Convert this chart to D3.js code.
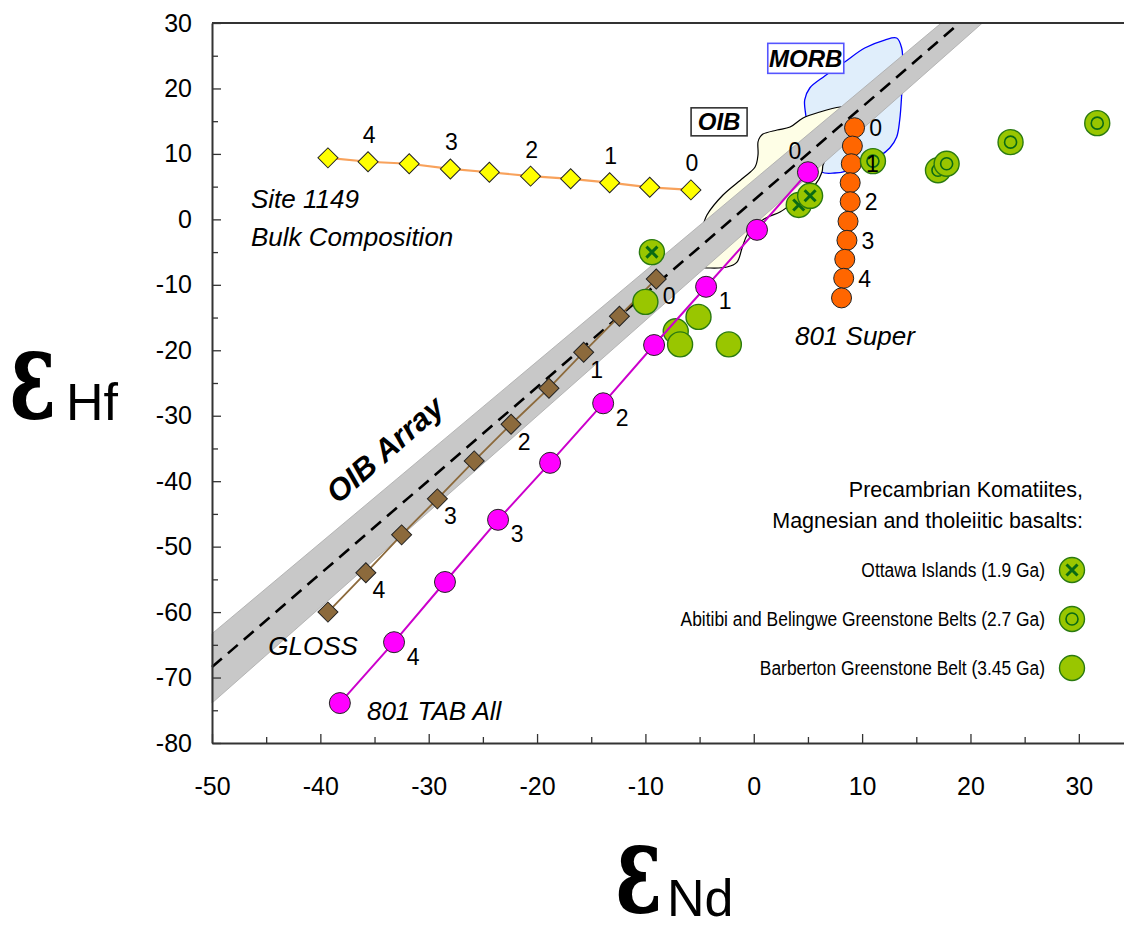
<!DOCTYPE html>
<html><head><meta charset="utf-8">
<script src="https://cdn.jsdelivr.net/npm/d3@7"></script>
<style>
body{margin:0;background:#fff}
svg{display:block}
</style>
</head><body>
<svg id="chart" width="1124" height="926" font-family="Liberation Sans, Arial, sans-serif"></svg>
<script>
// ---------- data ----------
const stepLabels = ["0","1","2","3","4"];

const site1149X = [-39.3,-35.6,-31.8,-28.0,-24.4,-20.6,-16.9,-13.3,-9.6,-5.8];
const site1149Y = [9.4,8.8,8.5,7.7,7.2,6.6,6.2,5.6,4.9,4.5];
const site1149LabelIdx = [9,7,5,3,1];

const superX = [9.3,9.1,9.0,8.9,8.9,8.7,8.6,8.4,8.3,8.1];
const superY = [14.0,11.2,8.5,5.6,2.7,-0.3,-3.2,-6.1,-9.0,-12.0];
const superLabelIdx = [0,2,4,6,8];

const tabX = [5.0,0.3,-4.4,-9.2,-13.9,-18.8,-23.6,-28.5,-33.2,-38.2];
const tabY = [7.2,-1.6,-10.3,-19.2,-28.1,-37.2,-45.9,-55.4,-64.6,-73.9];
const tabLabelIdx = [0,2,4,6,8];

const glossX = [-9.0,-12.4,-15.7,-18.9,-22.4,-25.8,-29.2,-32.5,-35.8,-39.3];
const glossY = [-9.1,-14.8,-20.3,-25.8,-31.3,-36.9,-42.7,-48.2,-54.0,-60.0];
const glossLabelIdx = [0,2,4,6,8];

const ottawaX = [-9.4,4.15,5.2];
const ottawaY = [-5.0,2.2,3.6];
const abitibiX = [11.0,17.0,17.8,23.7,31.7];
const abitibiY = [8.9,7.5,8.5,11.8,14.7];
const barbertonX = [-10.0,-7.2,-5.1,-6.8,-2.3];
const barbertonY = [-12.6,-17.1,-14.9,-19.1,-19.1];

const oibArrayX = [-50,19.0];
const oibArrayY = [-68.4,30];
const bandUpperX = [-50,17.3];
const bandUpperY = [-63.3,30];
const bandLowerX = [-50,21.1];
const bandLowerY = [-73.9,30];

const morbX = [13.19,13.65,13.75,13.65,13.47,13.19,12.55,11.62,10.24,8.86,7.47,6.27,5.63,5.17,4.80,4.70,5.17,6.55,8.39,10.24,12.08];
const morbY = [27.71,26.18,22.82,19.0,15.18,12.58,10.90,9.68,8.61,7.54,7.08,7.23,9.07,12.12,15.94,18.24,20.07,21.90,24.04,26.18,27.40];

const oibX = [0.58,0.85,2.15,3.35,4.55,6.11,7.96,8.88,9.16,8.88,7.96,7.31,6.76,6.39,6.30,5.65,4.55,3.35,2.42,1.31,0.12,-0.62,-1.08,-1.55,-2.47,-4.04,-4.96,-5.51,-5.61,-4.96,-4.32,-2.84,-0.99,0.12,0.39,0.39];
const oibY = [12.58,13.04,13.65,14.11,15.49,16.40,17.17,17.17,16.71,14.87,12.43,10.90,9.53,8.30,7.23,5.25,3.72,2.19,1.12,0.36,-0.86,-2.39,-4.38,-6.52,-7.28,-7.43,-7.28,-6.21,-4.38,-2.39,0.66,3.72,6.32,8.00,9.83,11.82];

const xTicks = [-50,-45,-40,-35,-30,-25,-20,-15,-10,-5,0,5,10,15,20,25,30];
const yTicks = [-80,-75,-70,-65,-60,-55,-50,-45,-40,-35,-30,-25,-20,-15,-10,-5,0,5,10,15,20,25,30];

const legendTitle = ["Precambrian Komatiites,","Magnesian and tholeiitic basalts:"];
const legendItems = ["Ottawa Islands (1.9 Ga)","Abitibi and Belingwe Greenstone Belts (2.7 Ga)","Barberton Greenstone Belt (3.45 Ga)"];

// ---------- setup ----------
const svg = d3.select("#chart");
const x = d3.scaleLinear().domain([-50,35]).range([212,1133]);
const y = d3.scaleLinear().domain([-80,30]).range([743,23]);
const zip = (a,b) => a.map((v,i)=>[v,b[i]]);
const line = d3.line().x(d=>x(d[0])).y(d=>y(d[1]));
const closed = d3.line().x(d=>x(d[0])).y(d=>y(d[1])).curve(d3.curveCatmullRomClosed.alpha(0.5));

const GREEN = "#99c600", GREEN_S = "#2a7a10", GREEN_D = "#0a6a14";

// ---------- fields ----------
svg.append("path").attr("d", closed(zip(morbX,morbY)))
  .attr("fill","#e0eefb").attr("stroke","#0000ff").attr("stroke-width",1.3);
svg.append("path").attr("d", closed(zip(oibX,oibY)))
  .attr("fill","#fefee6").attr("stroke","#000").attr("stroke-width",1.2);

// OIB array band
const band = zip(bandUpperX,bandUpperY).concat(zip(bandLowerX,bandLowerY).reverse());
svg.append("path").attr("d", line(band)+"Z").attr("fill","#c8c8c8").attr("stroke","#aaa").attr("stroke-width",0.8);
svg.append("path").attr("d", line(zip(oibArrayX,oibArrayY)))
  .attr("stroke","#000").attr("stroke-width",2.6).attr("stroke-dasharray","13,8").attr("fill","none");

// field labels
function boxLabel(cx, cy, w, h, txt, stroke){
  const g = svg.append("g").attr("transform",`translate(${cx},${cy})`);
  g.append("rect").attr("x",-w/2).attr("y",-h/2).attr("width",w).attr("height",h)
    .attr("fill","#fff").attr("stroke",stroke).attr("stroke-width",1.6);
  g.append("text").attr("text-anchor","middle").attr("y",8.5).attr("font-size",24)
    .attr("font-weight","bold").attr("font-style","italic").text(txt);
}
boxLabel(x(4.8), y(24.6), 76, 30, "MORB", "#5555ff");
boxLabel(x(-3.2), y(14.9), 56, 28, "OIB", "#333");

// OIB Array label
svg.append("text").attr("transform",`translate(${x(-38.4)},${y(-43.6)}) rotate(-41)`)
  .attr("font-size",31).attr("font-weight","bold").attr("font-style","italic").text("OIB Array");

// ---------- axes ----------
const axisColor = "#333";
const xAxis = d3.axisBottom(x).tickValues(xTicks).tickSize(-8).tickSizeOuter(0).tickPadding(34)
  .tickFormat(d => d%10===0 ? String(d) : "");
const gx = svg.append("g").attr("transform",`translate(0,${y(-80)})`).call(xAxis);
const yAxis = d3.axisLeft(y).tickValues(yTicks).tickSize(-8).tickSizeOuter(0).tickPadding(20)
  .tickFormat(d => d%10===0 ? String(d) : "");
const gy = svg.append("g").attr("transform",`translate(${x(-50)},0)`).call(yAxis);
[gx,gy].forEach(g=>{
  g.attr("font-family",null).attr("font-size",null);
  g.select(".domain").attr("stroke",axisColor).attr("stroke-width",2);
  g.selectAll(".tick line").attr("stroke",axisColor).attr("stroke-width",1.3);
  g.selectAll(".tick text").attr("font-size",25).attr("fill","#000");
});
gx.selectAll(".tick line").attr("y2", d => d%10===0 ? -9 : -6);
gy.selectAll(".tick line").attr("x2", d => d%10===0 ? 9 : 6);
svg.append("line").attr("x1",x(-50)).attr("x2",x(35)).attr("y1",y(30)).attr("y2",y(30))
  .attr("stroke",axisColor).attr("stroke-width",2);

// ---------- series ----------
const diamond = d3.symbol().type(d3.symbolSquare).size(200);

// Site 1149
svg.append("path").attr("d", line(zip(site1149X,site1149Y))).attr("fill","none")
  .attr("stroke","#f8a25c").attr("stroke-width",2.2);
svg.selectAll(".s1149").data(zip(site1149X,site1149Y)).join("path")
  .attr("d",diamond).attr("transform",d=>`translate(${x(d[0])},${y(d[1])}) rotate(45)`)
  .attr("fill","#ffff00").attr("stroke","#222").attr("stroke-width",1);

// GLOSS
svg.append("path").attr("d", line(zip(glossX,glossY))).attr("fill","none")
  .attr("stroke","#8c6a3c").attr("stroke-width",1.8);
svg.selectAll(".gloss").data(zip(glossX,glossY)).join("path")
  .attr("d",diamond).attr("transform",d=>`translate(${x(d[0])},${y(d[1])}) rotate(45)`)
  .attr("fill","#8c6a3c").attr("stroke","#222").attr("stroke-width",1);

// Barberton + Ottawa (behind TAB)
svg.selectAll(".barb").data(zip(barbertonX,barbertonY)).join("circle")
  .attr("cx",d=>x(d[0])).attr("cy",d=>y(d[1])).attr("r",12.5)
  .attr("fill",GREEN).attr("stroke",GREEN_S).attr("stroke-width",1.4);
function drawX(g){
  g.append("circle").attr("r",12.5).attr("fill",GREEN).attr("stroke",GREEN_S).attr("stroke-width",1.4);
  g.append("path").attr("d","M-5.5,-5.5L5.5,5.5M-5.5,5.5L5.5,-5.5").attr("stroke",GREEN_D).attr("stroke-width",3);
}
svg.selectAll(".ott").data(zip(ottawaX,ottawaY)).join("g")
  .attr("transform",d=>`translate(${x(d[0])},${y(d[1])})`)
  .each(function(){ drawX(d3.select(this)); });

// 801 TAB All
svg.append("path").attr("d", line(zip(tabX,tabY))).attr("fill","none")
  .attr("stroke","#cc00cc").attr("stroke-width",2);
svg.selectAll(".tab").data(zip(tabX,tabY)).join("circle")
  .attr("cx",d=>x(d[0])).attr("cy",d=>y(d[1])).attr("r",10.5)
  .attr("fill","#ff00ff").attr("stroke","#222").attr("stroke-width",1);

// 801 Super
svg.selectAll(".sup").data(zip(superX,superY)).join("circle")
  .attr("cx",d=>x(d[0])).attr("cy",d=>y(d[1])).attr("r",10)
  .attr("fill","#ff6600").attr("stroke","#222").attr("stroke-width",1);

// Abitibi
function drawRing(g){
  g.append("circle").attr("r",12.5).attr("fill",GREEN).attr("stroke",GREEN_S).attr("stroke-width",1.4);
  g.append("circle").attr("r",6).attr("fill","none").attr("stroke",GREEN_D).attr("stroke-width",1.6);
}
svg.selectAll(".abi").data(zip(abitibiX,abitibiY)).join("g")
  .attr("transform",d=>`translate(${x(d[0])},${y(d[1])})`)
  .each(function(){ drawRing(d3.select(this)); });

// ---------- step labels ----------
function stepText(xs, ys, idx, off){
  idx.forEach((k,j)=>{
    const o = off(j);
    svg.append("text").attr("x",x(xs[k])+o[0]).attr("y",y(ys[k])+o[1]+8.5)
      .attr("text-anchor","middle").attr("font-size",23).text(stepLabels[j]);
  });
}
stepText(site1149X, site1149Y, site1149LabelIdx, j=>[1,-27]);
stepText(superX, superY, superLabelIdx, j=>[21,0]);
stepText(tabX, tabY, tabLabelIdx, j=> j===0 ? [-13,-22] : [19,14]);
stepText(glossX, glossY, glossLabelIdx, j=>[13,17]);

// ---------- annotations ----------
function italic(xv, yv, txt){
  svg.append("text").attr("x",x(xv)).attr("y",y(yv)).attr("font-size",26)
    .attr("font-style","italic").text(txt);
}
italic(-46.4, 1.8, "Site 1149");
italic(-46.4, -4.0, "Bulk Composition");
italic(3.8, -19.2, "801 Super");
italic(-44.8, -66.6, "GLOSS");
italic(-35.7, -76.5, "801 TAB All");

// ---------- legend ----------
legendTitle.forEach((t,i)=>{
  svg.append("text").attr("x",1083).attr("y",497+31*i).attr("text-anchor","end")
    .attr("font-size",21.5).text(t);
});
const legRowY = [570,619,668];
legendItems.forEach((t,i)=>{
  svg.append("g").attr("transform",`translate(1045,${legRowY[i]+7}) scale(0.87,1)`)
    .append("text").attr("text-anchor","end").attr("font-size",20).text(t);
  const g = svg.append("g").attr("transform",`translate(1072,${legRowY[i]})`);
  if(i===0) drawX(g);
  else if(i===1) drawRing(g);
  else g.append("circle").attr("r",12.5).attr("fill",GREEN).attr("stroke",GREEN_S).attr("stroke-width",1.4);
});

// ---------- axis titles ----------
function axisTitle(tx, ty, subX, subY, sub){
  svg.append("g").attr("transform",`translate(${tx},${ty}) scale(0.68,1.12)`)
    .append("text").attr("font-family","DejaVu Serif, serif").attr("font-weight","bold")
    .attr("font-size",114).text("ε");
  svg.append("text").attr("x",subX).attr("y",subY).attr("font-size",52).text(sub);
}
axisTitle(9, 418, 66, 420, "Hf");
axisTitle(615, 912, 667, 916, "Nd");
</script>
</body></html>
